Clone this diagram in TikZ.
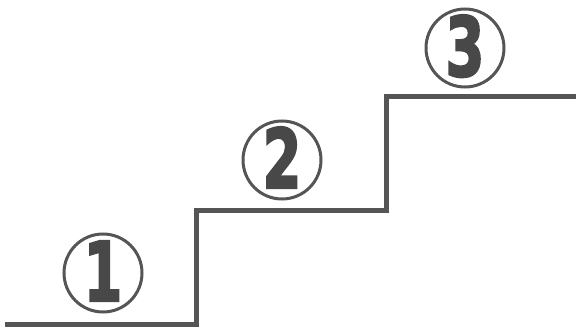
\documentclass[tikz,border=0pt]{standalone}
\usepackage{fontspec}
\usepackage{tikz}
\usetikzlibrary{positioning, calc}
\newfontfamily\stepfont{DejaVu Sans Bold}[BoldFont={DejaVu Sans Bold},BoldFeatures={FakeBold=3}]
\definecolor{stairgray}{RGB}{85, 85, 85}
\definecolor{digitgray}{RGB}{72, 72, 72}

\tikzset{
	stepnum/.style={circle, draw=stairgray, line width=3pt, minimum size=78pt,
		inner sep=0pt, text=digitgray, text height=0pt, text depth=0pt,
		font=\stepfont\bfseries\fontsize{82}{82}\selectfont}
}
\newcommand{\stepdigit}[1]{\raisebox{-28pt}{\scalebox{0.68}[1]{#1}}}

\begin{document}
\begin{tikzpicture}[x=1pt,y=-1pt]
	\useasboundingbox (0,0) rectangle (576,329);
	% stairs
	\draw[line width=5pt, stairgray] (5,324)--(196,324)--(196,210)--(386,210)--(386,97)--(576,97);
	% numbers
	\node[stepnum] (one) at (103,273) {\stepdigit{1}};
	\node[stepnum] (two) at (282,160) {\stepdigit{2}};
	\node[stepnum] (three) at (465,48) {\stepdigit{3}};
\end{tikzpicture}
\end{document}
